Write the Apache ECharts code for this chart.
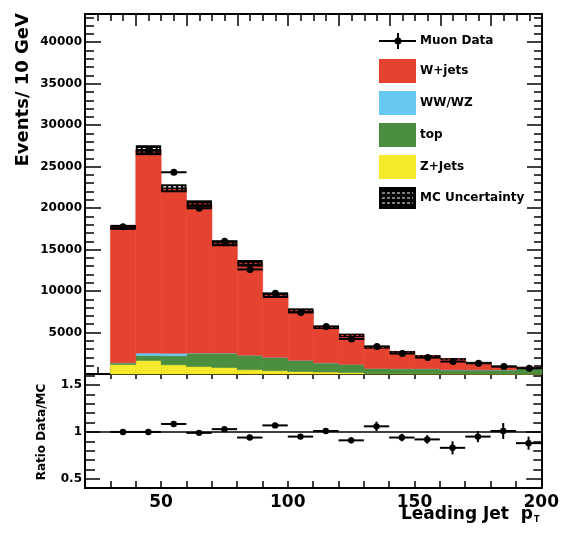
<!DOCTYPE html>
<html><head><meta charset="utf-8">
<script src="https://cdn.jsdelivr.net/npm/echarts@6/dist/echarts.min.js"></script>
<style>html,body{margin:0;padding:0;background:#fff}#c{width:562px;height:534px}</style>
</head><body><div id="c"></div>
<script>
// ---- data ----
const binLow = [30,40,50,60,70,80,90,100,110,120,130,140,150,160,170,180,190];
const binWidth = 10;
const zJets    = [1150,1630,1110,900,780,520,400,300,240,180,60,50,40,30,20,15,10];
const topQuark = [200,600,1090,1610,1730,1710,1590,1330,1090,970,600,580,590,470,480,480,680];
const wwWz     = [0,300,300,20,20,20,20,15,15,10,10,10,5,5,5,5,5];
const wJets    = [16330,24450,19890,17990,13220,11090,7460,6020,4270,3490,2530,1990,1520,1300,850,400,85];
const mcErr    = [300,600,480,420,350,400,300,250,200,220,150,150,130,120,110,100,100];
const muonData = [17750,26950,24320,19980,15990,12610,9720,7420,5730,4220,3330,2470,1980,1500,1290,910,690];
const dataErr  = [133,164,156,141,126,112,99,86,76,65,58,50,45,39,36,30,26];
const ratioVals= [1.00,1.00,1.085,0.99,1.03,0.94,1.07,0.95,1.01,0.91,1.06,0.94,0.92,0.83,0.95,1.01,0.88];
const ratioErr = [0.015,0.015,0.02,0.02,0.02,0.02,0.025,0.025,0.03,0.03,0.05,0.04,0.045,0.07,0.06,0.085,0.07];
const mainYLabels = [5000,10000,15000,20000,25000,30000,35000,40000];
const ratioYLabels = [0.5,1,1.5];
const xLabels = [50,100,150,200];

const C = {wj:'#E5432F', ww:'#66C7F0', top:'#4B8E3F', zj:'#F6E92C'};
const FONT = 'DejaVu Sans';

// tick value lists
const range = (a,b,s)=>{const r=[];for(let v=a;v<=b+1e-9;v+=s)r.push(+v.toFixed(4));return r;};
const mainXMajor = range(40,200,20);
const mainXMinor = range(25,195,5).filter(v=>v%20!==0);
const mainYMajor = mainYLabels;
const mainYMinor = range(1000,43000,1000).filter(v=>v%5000!==0);
const ratioXTicks = range(30,190,10);
const ratioYMajor = ratioYLabels;
const ratioYMinor = [0.6,0.7,0.8,0.9,1.1,1.2,1.3,1.4,1.6];

// ---- build stacked histogram data ----
const stackDefs = [
  {name:'Z+Jets', vals:zJets, color:C.zj},
  {name:'top', vals:topQuark, color:C.top},
  {name:'WW/WZ', vals:wwWz, color:C.ww},
  {name:'W+jets', vals:wJets, color:C.wj}
];
const cum = binLow.map(()=>0);
function rectRender(color){
  return function(params, api){
    const a = api.coord([api.value(0), api.value(3)]);
    const b = api.coord([api.value(1), api.value(2)]);
    return {type:'rect', shape:{x:a[0], y:a[1], width:b[0]-a[0], height:b[1]-a[1]},
      style:{fill:color, stroke:color, lineWidth:0.6}};
  };
}
const series = [];
stackDefs.forEach(d=>{
  const data = binLow.map((x0,i)=>{const lo=cum[i]; cum[i]+=d.vals[i]; return [x0, x0+binWidth, lo, cum[i]];});
  series.push({type:'custom', name:d.name, xAxisIndex:0, yAxisIndex:0, data,
    encode:{x:[0,1], y:[2,3]}, renderItem:rectRender(d.color), silent:true});
});
// MC uncertainty band
const bandData = binLow.map((x0,i)=>[x0, x0+binWidth, cum[i]-mcErr[i], cum[i]+mcErr[i]]);
series.push({type:'custom', name:'MC Uncertainty', xAxisIndex:0, yAxisIndex:0, data:bandData,
  encode:{x:[0,1], y:[2,3]}, silent:true,
  renderItem:function(params, api){
    const a = api.coord([api.value(0), api.value(3)]);
    const b = api.coord([api.value(1), api.value(2)]);
    const h = b[1]-a[1], w = b[0]-a[0];
    const ch = [{type:'rect', shape:{x:a[0], y:a[1], width:w, height:h}, style:{fill:'#000'}}];
    if (h >= 7) {
      ch.push({type:'line', shape:{x1:a[0]+2,y1:a[1]+h*0.33,x2:b[0]-2,y2:a[1]+h*0.33}, style:{stroke:'#fff', lineWidth:1.1, lineDash:[3,2]}});
      ch.push({type:'line', shape:{x1:a[0]+2,y1:a[1]+h*0.67,x2:b[0]-2,y2:a[1]+h*0.67}, style:{stroke:C.wj, lineWidth:1.1, lineDash:[3,2]}});
    } else {
      ch.push({type:'line', shape:{x1:a[0]+2,y1:a[1]+h*0.5,x2:b[0]-2,y2:a[1]+h*0.5}, style:{stroke:C.wj, lineWidth:1, lineDash:[3,2]}});
    }
    return {type:'group', children:ch};
  }});

function pointRender(r){
  return function(params, api){
    const xc=api.value(0), y=api.value(1), e=api.value(2), x0=api.value(3), x1=api.value(4);
    const L=api.coord([x0,y]), R=api.coord([x1,y]), T=api.coord([xc,y+e]), B=api.coord([xc,y-e]), P=api.coord([xc,y]);
    return {type:'group', children:[
      {type:'line', shape:{x1:L[0],y1:L[1],x2:R[0],y2:R[1]}, style:{stroke:'#000', lineWidth:2}},
      {type:'line', shape:{x1:T[0],y1:T[1],x2:B[0],y2:B[1]}, style:{stroke:'#000', lineWidth:2}},
      {type:'circle', shape:{cx:P[0], cy:P[1], r:r}, style:{fill:'#000'}}
    ]};
  };
}
series.push({type:'custom', name:'Muon Data', xAxisIndex:0, yAxisIndex:0, silent:true,
  data: binLow.map((x0,i)=>[x0+binWidth/2, muonData[i], dataErr[i], x0, x0+binWidth]),
  encode:{x:0, y:1}, renderItem:pointRender(3.5)});
series.push({type:'custom', name:'Ratio', xAxisIndex:4, yAxisIndex:4, silent:true,
  data: binLow.map((x0,i)=>[x0+binWidth/2, ratioVals[i], ratioErr[i], x0, x0+binWidth]),
  encode:{x:0, y:1}, renderItem:pointRender(3.2),
  markLine:{silent:true, symbol:'none', label:{show:false}, lineStyle:{color:'#000', width:1.6, type:'solid'},
    data:[{yAxis:1}]}});

// ---- axes ----
function ax(extra){
  return Object.assign({type:'value', splitLine:{show:false}, axisLine:{show:false, onZero:false},
    axisLabel:{show:false}, axisTick:{show:false}, axisPointer:{show:false}}, extra);
}
function ticks(vals, len){ return {show:true, inside:true, length:len, customValues:vals, lineStyle:{color:'#000', width:1.5}}; }
const border = {show:true, onZero:false, lineStyle:{color:'#000', width:2}};
const lblStyle = {color:'#000', fontFamily:FONT, fontWeight:'bold', formatter:(v)=>String(v)};

const xAxis = [
  ax({gridIndex:0, position:'bottom', min:20, max:200, axisLine:border, axisTick:ticks(mainXMajor,12)}),
  ax({gridIndex:0, position:'bottom', min:20, max:200, axisTick:ticks(mainXMinor,7)}),
  ax({gridIndex:0, position:'top', min:20, max:200, axisLine:border, axisTick:ticks(mainXMajor,12)}),
  ax({gridIndex:0, position:'top', min:20, max:200, axisTick:ticks(mainXMinor,7)}),
  ax({gridIndex:1, position:'bottom', min:20, max:200, axisLine:border, axisTick:ticks(ratioXTicks,7),
    axisLabel:Object.assign({show:true, customValues:xLabels, fontSize:17, margin:6, showMinLabel:true, showMaxLabel:true}, lblStyle)}),
  ax({gridIndex:1, position:'top', min:20, max:200, axisTick:ticks(ratioXTicks,5)})
];
const yAxis = [
  ax({gridIndex:0, position:'left', min:0, max:43400, axisLine:border, axisTick:ticks(mainYMajor,16),
    axisLabel:Object.assign({show:true, customValues:mainYLabels, fontSize:12, margin:3}, lblStyle)}),
  ax({gridIndex:0, position:'left', min:0, max:43400, axisTick:ticks(mainYMinor,9)}),
  ax({gridIndex:0, position:'right', min:0, max:43400, axisLine:border, axisTick:ticks(mainYMajor,15)}),
  ax({gridIndex:0, position:'right', min:0, max:43400, axisTick:ticks(mainYMinor,8)}),
  ax({gridIndex:1, position:'left', min:0.4, max:1.62, axisLine:border, axisTick:ticks(ratioYMajor,15),
    axisLabel:Object.assign({show:true, customValues:ratioYLabels, fontSize:12, margin:3}, lblStyle)}),
  ax({gridIndex:1, position:'left', min:0.4, max:1.62, axisTick:ticks(ratioYMinor,10)}),
  ax({gridIndex:1, position:'right', min:0.4, max:1.62, axisLine:border, axisTick:ticks(ratioYMajor,15)}),
  ax({gridIndex:1, position:'right', min:0.4, max:1.62, axisTick:ticks(ratioYMinor,8)})
];

// ---- legend & titles (graphic) ----
const legX = 379, legW = 37, txtX = 420;
const legText = (t,y)=>({type:'text', x:txtX, y:y, style:{text:t, fill:'#000', fontFamily:FONT, fontWeight:'bold', fontSize:12, align:'left', verticalAlign:'middle'}});
const legBox = (col,yc)=>({type:'rect', shape:{x:legX, y:yc-12, width:legW, height:24}, style:{fill:col}});
const graphic = [
  {type:'line', shape:{x1:legX, y1:41, x2:legX+legW, y2:41}, style:{stroke:'#000', lineWidth:2}},
  {type:'line', shape:{x1:398, y1:33, x2:398, y2:49}, style:{stroke:'#000', lineWidth:2}},
  {type:'circle', shape:{cx:398, cy:41, r:3.5}, style:{fill:'#000'}},
  legText('Muon Data', 41),
  legBox(C.wj, 71), legText('W+jets', 71),
  legBox(C.ww, 103), legText('WW/WZ', 103),
  legBox(C.top, 135), legText('top', 135),
  legBox(C.zj, 167), legText('Z+Jets', 167),
  {type:'rect', shape:{x:legX, y:187, width:legW, height:22}, style:{fill:'#000'}},
  {type:'line', shape:{x1:legX+3, y1:193, x2:legX+legW-3, y2:193}, style:{stroke:'#fff', lineWidth:1, lineDash:[3,2]}},
  {type:'line', shape:{x1:legX+3, y1:198, x2:legX+legW-3, y2:198}, style:{stroke:'#fff', lineWidth:1, lineDash:[3,2]}},
  {type:'line', shape:{x1:legX+3, y1:203, x2:legX+legW-3, y2:203}, style:{stroke:'#fff', lineWidth:1, lineDash:[3,2]}},
  legText('MC Uncertainty', 198),
  {type:'text', x:23, y:13, rotation:Math.PI/2, style:{text:'Events/ 10 GeV', fill:'#000', fontFamily:FONT, fontWeight:'bold', fontSize:18, align:'right', verticalAlign:'middle'}},
  {type:'text', x:42, y:432, rotation:Math.PI/2, style:{text:'Ratio Data/MC', fill:'#000', fontFamily:FONT, fontWeight:'bold', fontSize:12, align:'center', verticalAlign:'middle'}},
  {type:'text', x:533, y:515, style:{text:'Leading Jet  p', fill:'#000', fontFamily:FONT, fontWeight:'bold', fontSize:17, align:'right', verticalAlign:'middle'}},
  {type:'text', x:534, y:520, style:{text:'T', fill:'#000', fontFamily:FONT, fontWeight:'bold', fontSize:8, align:'left', verticalAlign:'middle'}}
];

const chart = echarts.init(document.getElementById('c'), null, {renderer:'canvas'});
chart.setOption({
  animation:false,
  backgroundColor:'#fff',
  grid:[
    {left:85, top:14, width:457, height:360},
    {left:85, top:374, width:457, height:114}
  ],
  xAxis, yAxis, series, graphic
});
</script></body></html>
